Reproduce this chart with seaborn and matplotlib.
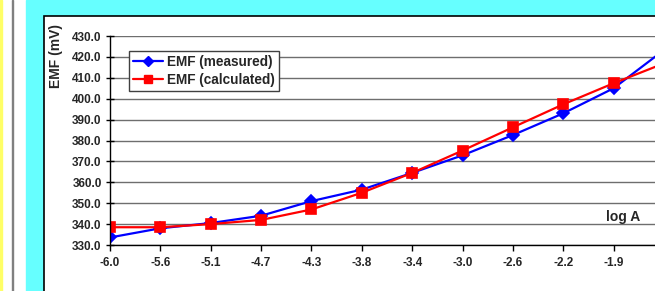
import numpy as np
import pandas as pd
import seaborn as sns
import matplotlib
matplotlib.use("Agg")
import matplotlib.pyplot as plt
from matplotlib.patches import Rectangle
from matplotlib.lines import Line2D

# data (x axis is categorical, last point is cropped)
log_a = ['-6.0', '-5.6', '-5.1', '-4.7', '-4.3', '-3.8', '-3.4', '-3.0', '-2.6', '-2.2', '-1.9', '-1.5']
emf_measured = [333.6, 338.0, 340.5, 344.0, 351.0, 356.5, 364.5, 372.9, 382.6, 393.0, 405.0, 423.3]
emf_calculated = [338.5, 338.5, 340.0, 342.0, 347.0, 355.0, 364.5, 375.2, 386.3, 397.3, 407.4, 416.9]
series_names = ['EMF (measured)', 'EMF (calculated)']
y_ticks = [330, 340, 350, 360, 370, 380, 390, 400, 410, 420, 430]

df = pd.DataFrame({
    'logA': log_a * 2,
    'EMF': emf_measured + emf_calculated,
    'series': [series_names[0]] * len(log_a) + [series_names[1]] * len(log_a),
})

sns.set_style('white')
plt.rcParams['font.family'] = ['Liberation Sans', 'DejaVu Sans']
plt.rcParams['font.weight'] = 'bold'

W, H = 655, 291
fig = plt.figure(figsize=(W / 100, H / 100), dpi=100)
fig.patch.set_facecolor('white')

# page decoration: yellow strip, grey rule, cyan panel, white chart area
fig.patches.append(Rectangle((0, 0), 2 / W, 1, transform=fig.transFigure, color='#ffff66', zorder=0))
fig.patches.append(Rectangle((11.5 / W, 0), 1.2 / W, 1, transform=fig.transFigure, color='#808080', zorder=0))
fig.patches.append(Rectangle((26 / W, 0), 1, 1, transform=fig.transFigure, color='#66ffff', zorder=0))
fig.patches.append(Rectangle((44 / W, -0.1), 1, 1 - 16 / H + 0.1, transform=fig.transFigure,
                             facecolor='white', edgecolor='black', linewidth=1.2, zorder=0))

ax = fig.add_axes([110 / W, 1 - 245 / H, 554 / W, 209 / H])
ax.set_zorder(2)
ax.set_facecolor('none')

colors = {series_names[0]: '#0000ff', series_names[1]: '#ff0000'}
markers = {series_names[0]: 'D', series_names[1]: 's'}
for name in series_names:
    sub = df[df.series == name]
    sns.pointplot(data=sub, x='logA', y='EMF', order=log_a, color=colors[name],
                  marker=markers[name], markersize=6 if name == series_names[0] else 7,
                  linewidth=1.6, ax=ax)

ax.set_xlim(0, len(log_a) - 1)
ax.set_ylim(330, 430)
ax.set_yticks(y_ticks)
ax.set_yticklabels([f'{v:.1f}' for v in y_ticks], fontsize=8.5, fontweight='bold')
# last category lies outside the cropped picture, so only the visible ones get labels
ax.set_xticks(range(len(log_a) - 1))
ax.set_xticklabels(log_a[:-1], fontsize=8.5, fontweight='bold')
ax.set_xlabel('')
ax.set_ylabel('')
ax.yaxis.grid(True, color='#6e6e6e', linewidth=1)
ax.xaxis.grid(False)
ax.set_axisbelow(True)
for s in ['top', 'right']:
    ax.spines[s].set_visible(False)
for s in ['left', 'bottom']:
    ax.spines[s].set_color('black')
    ax.spines[s].set_linewidth(1)
ax.tick_params(axis='y', direction='inout', length=6, width=1, color='black', pad=3, left=True)
ax.tick_params(axis='x', direction='out', length=4, width=1, color='black', pad=5, bottom=True)

handles = [Line2D([], [], color=colors[n], marker=markers[n], markersize=5 if n == series_names[0] else 6,
                  linewidth=1.6) for n in series_names]
leg = ax.legend(handles, series_names, loc='upper left', bbox_to_anchor=(129 / W, 1 - 51 / H),
                bbox_transform=fig.transFigure, fancybox=False, framealpha=1, edgecolor='#404040',
                prop={'size': 9.8, 'weight': 'bold'}, handlelength=2.2, borderpad=0.3,
                labelspacing=0.3, handletextpad=0.3, borderaxespad=0)
leg.get_frame().set_linewidth(1)

fig.text(56 / W, 1 - 56 / H, 'EMF (mV)', rotation=90, ha='center', va='center',
         fontsize=10, fontweight='bold')
fig.text(623 / W, 1 - 217 / H, 'log A', ha='center', va='center', fontsize=10, fontweight='bold')

fig.savefig('out.png', dpi=100)
